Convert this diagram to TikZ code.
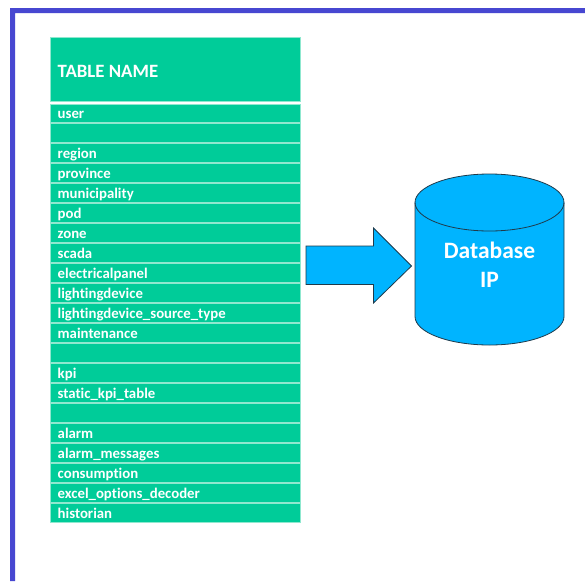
\documentclass[tikz,border=0pt]{standalone}
\usepackage{fontspec}
\setmainfont[Ligatures=NoCommon]{Carlito}
\definecolor{rowgreen}{HTML}{00CC99}
\definecolor{rowline}{HTML}{8FE8CF}
\definecolor{frameblue}{HTML}{4747D1}
\definecolor{dbblue}{HTML}{00B4FF}
\definecolor{edgedark}{HTML}{1F3A4A}
\tikzset{
  tablecell/.style={draw=rowline,line width=0.8pt,fill=rowgreen,anchor=north west,minimum width=249.5pt,inner sep=0pt,outer sep=0pt},
  dbedge/.style={draw=edgedark,line width=0.8pt,fill=dbblue},
  dblabel/.style={text=white,font=\bfseries\fontsize{23.5}{29}\selectfont,align=center},
  rowtextstyle/.style={anchor=west,text=white,font=\bfseries\fontsize{14.8}{14.8}\selectfont,inner sep=0pt},
}
\begin{document}
\begin{tikzpicture}[x=1pt,y=-1pt]
\useasboundingbox (0,0) rectangle (585,581);
\fill[white] (0,0) rectangle (585,581);
\fill[frameblue] (585,8) -- (10,8) -- (10,581) -- (15,581) -- (15,13) -- (585,13) -- cycle;
% header
\node[tablecell,minimum height=63.5pt] (head) at (50.5,37.5) {};
\node[anchor=west,text=white,font=\bfseries\fontsize{18.8}{18.8}\selectfont,inner sep=0pt] (headtext) at (57.5,71.5) {TABLE NAME};
% rows
\foreach \i/\t/\top/\h/\ty in {
 1/user/104.5/18/115.5, 2//123/19.5/135, 3/region/143/19.5/155.5, 4/province/163/19.5/175.5,
 5/municipality/183/19.5/195.5, 6/pod/203/19.5/215.5, 7/zone/223/19.5/235.5, 8/scada/243/19.5/255.5,
 9/electricalpanel/263/19.5/275.5, 10/lightingdevice/283/19.5/295.5,
 11/lightingdevice\_source\_type/303/19.5/315.5, 12/maintenance/323/19.5/335.5,
 13//343/19.5/355.5, 14/kpi/363/19.5/375.5, 15/static\_kpi\_table/383/19.5/395.5, 16//403/19.5/415.5,
 17/alarm/423/19.5/435.5, 18/alarm\_messages/443/19.5/455.5, 19/consumption/463/19.5/475.5,
 20/excel\_options\_decoder/483/19.5/495.5, 21/historian/503/19/515.5}{
  \node[tablecell,minimum height=\h pt] (row\i) at (50.5,\top) {};
  \node[rowtextstyle] (rowtext\i) at (57.5,\ty) {\strut\t};
}
% arrow
\path[dbedge] (306,246) -- (373.5,246) -- (373.5,228) -- (411.5,266) -- (373.5,303) -- (373.5,284.5) -- (306,284.5) -- cycle;
% cylinder
\path[dbedge] (415,202.5) -- (415,316.5) arc[start angle=180,end angle=360,x radius=74.5,y radius=-28.5] -- (564,202.5) arc[start angle=0,end angle=180,x radius=74.5,y radius=-28.5] -- cycle;
\draw[edgedark,line width=0.8pt] (415,202.5) arc[start angle=180,end angle=360,x radius=74.5,y radius=-28.5];
\node[dblabel] (dbtext) at (489.5,264.5) {Database\\IP};
\end{tikzpicture}
\end{document}
